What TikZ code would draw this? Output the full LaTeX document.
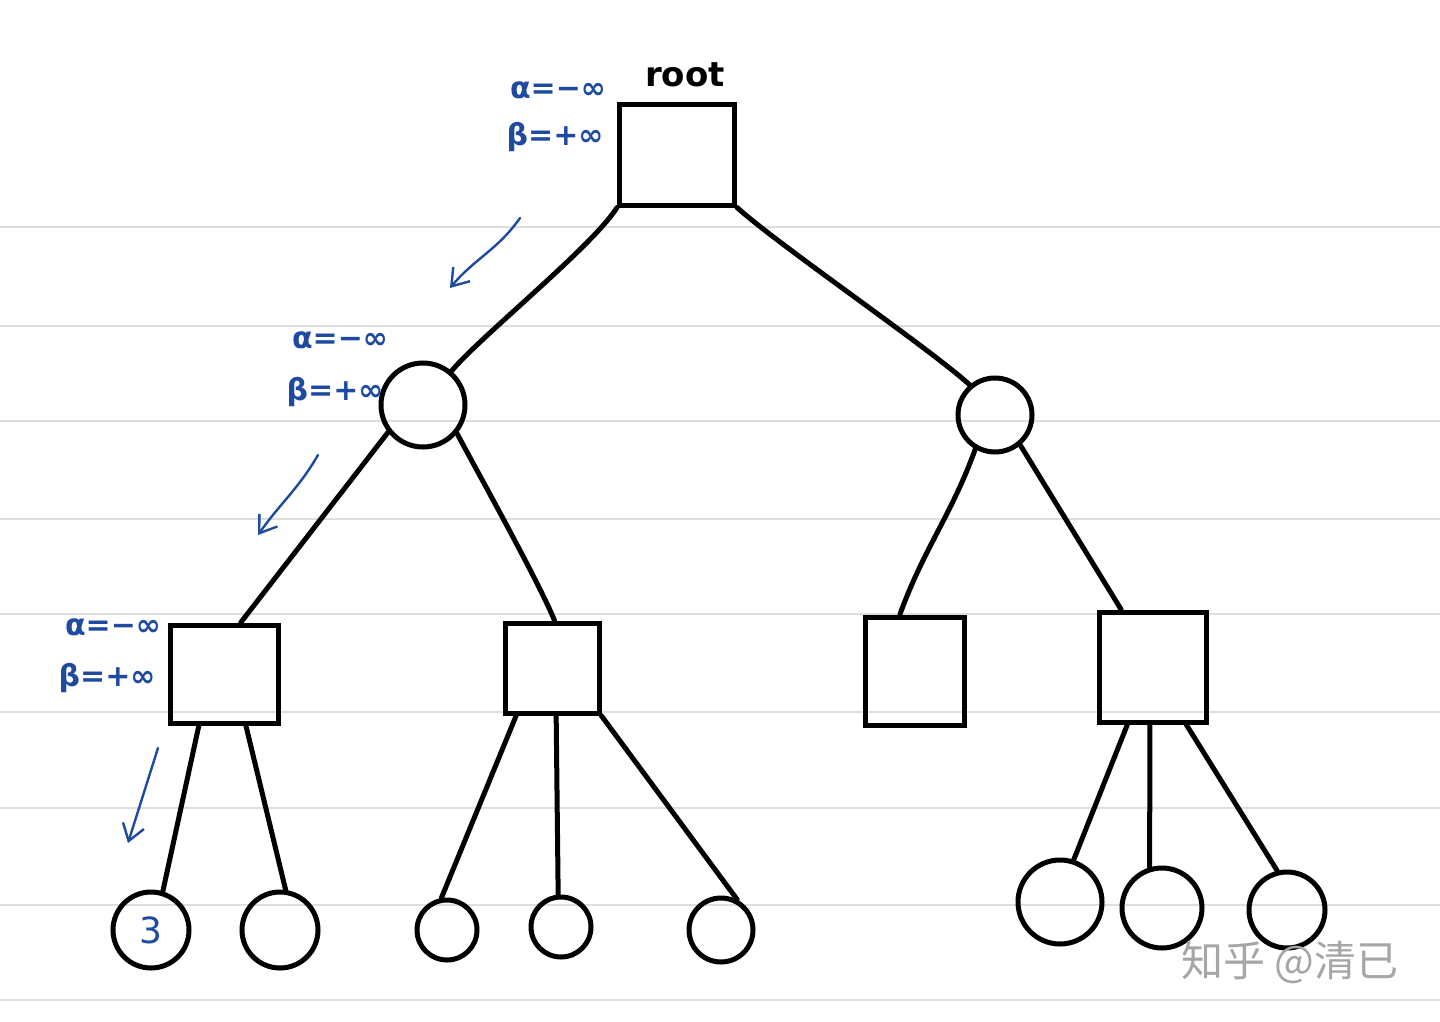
\documentclass[tikz,border=0pt]{standalone}
\usepackage{fontspec}
\setmainfont{DejaVu Sans}
\newfontfamily\cjkfont{Noto Sans CJK SC}
\usetikzlibrary{arrows.meta,calc}
\definecolor{handblue}{RGB}{30,75,160}
\definecolor{rulegray}{RGB}{222,222,222}
\begin{document}
\begin{tikzpicture}[x=0.5pt,y=-0.5pt,
  sq/.style={draw,line width=2.5pt,inner sep=0pt},
  circ/.style={draw,circle,line width=2.5pt,inner sep=0pt},
  edge/.style={line width=2.5pt,line cap=round},
  lab/.style={text=handblue,font=\fontsize{15}{18}\selectfont\bfseries,inner sep=1pt},
  barrow/.style={handblue,line width=1.2pt,line cap=round,-{Straight Barb[length=8pt,width=11pt,line width=1.2pt]}},
  ruleline/.style={rulegray,line width=1pt}]
\useasboundingbox (0,0) rectangle (1440,1022);
\fill[white] (0,0) rectangle (1440,1022);
% ruled paper
\foreach \yy in {227,326,421,519,614,712,808,905,1000}
  \draw[ruleline] (0,\yy) -- (1440,\yy);
% nodes
\node[sq,minimum width=57.5pt,minimum height=50pt] (root) at (677,155) {};
\node[font=\fontsize{17}{20}\selectfont\bfseries] (roottxt) at (685,75) {root};
\node[circ,minimum size=42pt] (lc) at (423,405) {};
\node[circ,minimum size=37pt] (rc) at (995,415) {};
\node[sq,minimum width=54pt,minimum height=49pt] (A) at (224,674) {};
\node[sq,minimum width=47pt,minimum height=45pt] (B) at (552,668) {};
\node[sq,minimum width=49.5pt,minimum height=54pt] (C) at (915,671) {};
\node[sq,minimum width=53.5pt,minimum height=55pt] (D) at (1153,667) {};
\node[circ,minimum size=38pt,text=handblue,font=\fontsize{18}{20}\selectfont] (L1) at (151,930) {3};
\node[circ,minimum size=38pt] (L2) at (280,930) {};
\node[circ,minimum size=30pt] (L3) at (447,930) {};
\node[circ,minimum size=30pt] (L4) at (561,927) {};
\node[circ,minimum size=32pt] (L5) at (721,930) {};
\node[circ,minimum size=42pt] (L6) at (1060,902) {};
\node[circ,minimum size=40pt] (L7) at (1162,908) {};
\node[circ,minimum size=38pt] (L8) at (1287,910) {};
% labels
\node[lab] (ra) at (558,90) {α=−∞};
\node[lab] (rb) at (555,137) {β=+∞};
\node[lab] (la) at (340,340) {α=−∞};
\node[lab] (lb) at (335,392) {β=+∞};
\node[lab] (aa) at (113,627) {α=−∞};
\node[lab] (ab) at (107,678) {β=+∞};
% edges
\draw[edge] (root.south west) to[out=238,in=50,looseness=0.5] (lc.50);
\draw[edge] (root.south east) to[out=-42,in=138,looseness=0.5] (rc.130);
\draw[edge] (lc.218) -- (A.72);
\draw[edge] (lc.320) to[out=-62,in=112,looseness=0.5] (B.87);
\draw[edge] (rc.240) to[out=-110,in=70] (C.105);
\draw[edge] (rc.310) -- (D.119);
\draw[edge] (A.244) -- (L1.73);
\draw[edge] (A.293) -- (L2.82);
\draw[edge] (B.233) -- (L3.100);
\draw[edge] (B.275) -- (L4.95);
\draw[edge] (B.316) -- (L5.62);
\draw[edge] (D.246) -- (L6.72);
\draw[edge] (D.267) -- (L7.107);
\draw[edge] (D.300) -- (L8.104);
% blue arrows
\coordinate (a1s) at (520,218); \coordinate (a1e) at (450,288);
\coordinate (a2s) at (318,455); \coordinate (a2e) at (258,535);
\coordinate (a3s) at (158,748); \coordinate (a3e) at (128,843);
\draw[barrow] (a1s) to[out=235,in=50] (a1e);
\draw[barrow] (a2s) to[out=240,in=55] (a2e);
\draw[barrow] (a3s) -- (a3e);
% watermark
\node[text=black!35,font=\cjkfont\fontsize{21}{24}\selectfont] (wm) at (1290,962) {知乎 @清已};
\end{tikzpicture}
\end{document}
